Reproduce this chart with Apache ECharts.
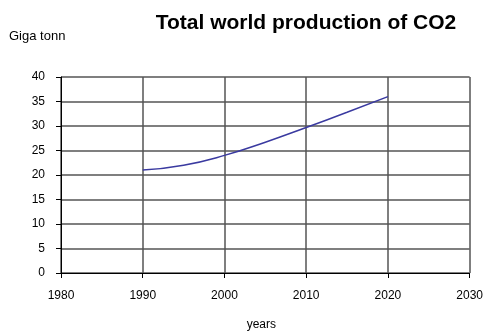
<!DOCTYPE html>
<html>
<head>
<meta charset="utf-8">
<script src="https://cdn.jsdelivr.net/npm/echarts@6/dist/echarts.min.js"></script>
<style>
  html, body { margin: 0; padding: 0; background: #fff; }
  #chart { width: 486px; height: 336px; }
</style>
</head>
<body>
<div id="chart"></div>
<script>
// data
var years = [1990, 1995, 2000, 2005, 2010, 2015, 2020];
var co2 = [21, 22, 24, 26.7, 29.7, 32.8, 36];

var points = years.map(function (y, i) { return [y, co2[i]]; });

var myChart = echarts.init(document.getElementById('chart'));
myChart.setOption({
  animation: false,
  textStyle: { fontFamily: 'Liberation Sans, Arial, sans-serif', color: '#000' },
  title: {
    text: 'Total world production of CO2',
    left: 301,
    top: 8,
    textAlign: 'center',
    textStyle: { fontSize: 21, fontWeight: 'bold', color: '#000' }
  },
  grid: { left: 61, right: 13, top: 77, bottom: 59 },
  xAxis: {
    type: 'value',
    min: 1980,
    max: 2030,
    interval: 10,
    name: 'years',
    nameLocation: 'middle',
    nameGap: 46,
    nameTextStyle: { fontSize: 12, color: '#000', padding: [0, 8, 0, 0] },
    axisLine: { show: true, lineStyle: { color: '#000', width: 1 } },
    axisTick: { show: true, length: 5, lineStyle: { color: '#000' } },
    axisLabel: { fontSize: 12, color: '#000', margin: 17, formatter: function (v) { return String(v); } },
    splitLine: { show: true, lineStyle: { color: '#555', width: 1.5 } }
  },
  yAxis: {
    type: 'value',
    min: 0,
    max: 40,
    interval: 5,
    name: 'Giga tonn',
    nameLocation: 'end',
    nameGap: 34,
    nameTextStyle: { fontSize: 13, color: '#000', align: 'left', padding: [0, 0, 0, -52] },
    axisLine: { show: true, lineStyle: { color: '#000', width: 1 } },
    axisTick: { show: true, length: 5, lineStyle: { color: '#000' } },
    axisLabel: { fontSize: 12, color: '#000', margin: 16 },
    splitLine: { show: true, lineStyle: { color: '#555', width: 1.5 } }
  },
  series: [{
    type: 'line',
    data: points,
    smooth: true,
    symbol: 'none',
    lineStyle: { color: '#3a3aa0', width: 1.5 }
  }]
});
window.onresize = function () { myChart.resize(); };
</script>
</body>
</html>
